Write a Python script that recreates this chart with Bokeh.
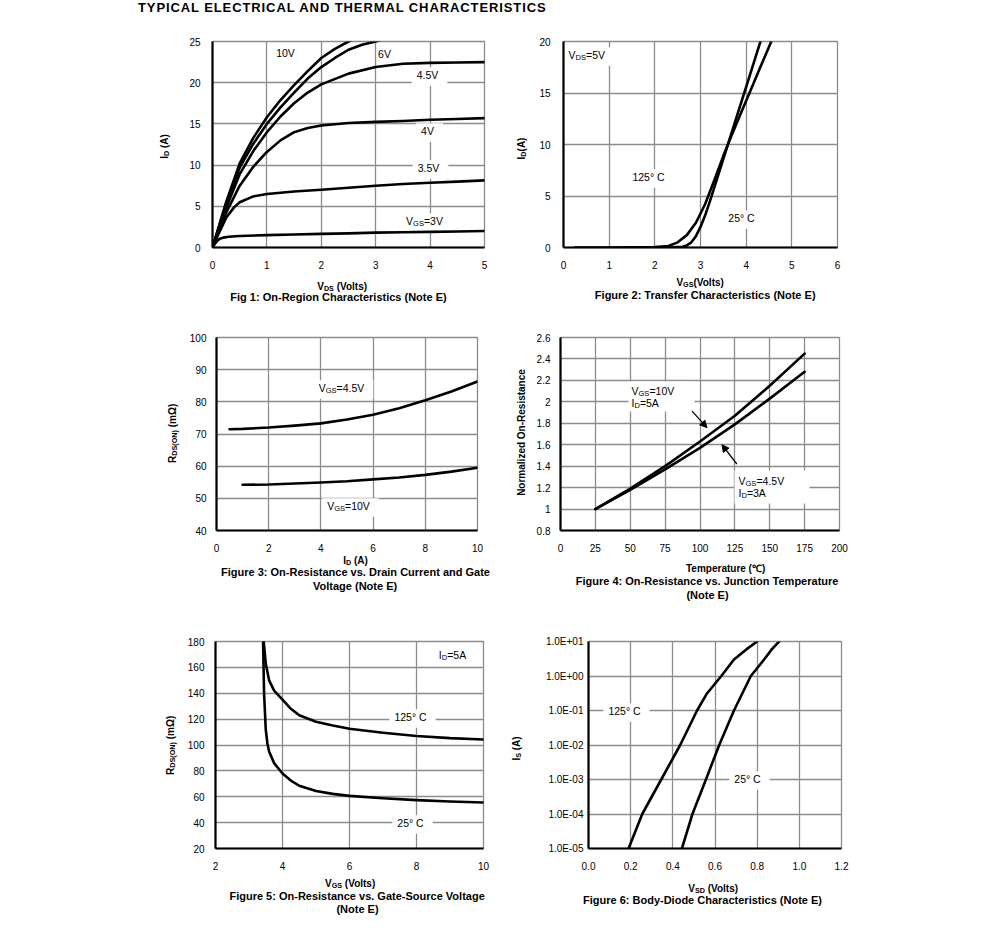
import math
from bokeh.plotting import figure
from bokeh.models import Label, BoxAnnotation, FixedTicker, Arrow, NormalHead, Div, Range1d
from bokeh.layouts import column, row
from bokeh.embed import file_html
from bokeh.resources import INLINE

# ---------------- data ----------------
# Fig 1: On-region characteristics (VDS -> ID) for several VGS
vds_10v = [0, 0.1, 0.25, 0.5, 0.75, 1.0, 1.25, 1.5, 1.75, 2.0, 2.25, 2.5, 2.6]
id_10v = [0, 2.2, 5.5, 10.2, 13.3, 15.8, 17.9, 19.7, 21.4, 23.0, 24.1, 25.0, 25.3]
vds_6v = [0, 0.1, 0.25, 0.5, 0.75, 1.0, 1.25, 1.5, 1.75, 2.0, 2.25, 2.5, 2.75, 3.0, 3.1]
id_6v = [0, 2.1, 5.2, 9.7, 12.6, 15.0, 17.0, 18.8, 20.5, 21.9, 23.0, 24.0, 24.6, 25.0, 25.2]
vds_45v = [0, 0.1, 0.25, 0.5, 0.75, 1.0, 1.25, 1.5, 1.75, 2.0, 2.5, 3.0, 3.5, 4.0, 4.5, 5.0]
id_45v = [0, 2.0, 4.8, 8.9, 11.7, 14.0, 15.9, 17.5, 18.8, 19.8, 21.1, 21.9, 22.3, 22.4, 22.45, 22.5]
vds_4v = [0, 0.1, 0.25, 0.5, 0.75, 1.0, 1.25, 1.5, 1.75, 2.0, 2.5, 3.0, 3.5, 4.0, 4.5, 5.0]
id_4v = [0, 1.8, 4.2, 7.5, 9.8, 11.6, 13.0, 14.0, 14.5, 14.8, 15.1, 15.25, 15.35, 15.5, 15.6, 15.7]
vds_35v = [0, 0.1, 0.25, 0.4, 0.5, 0.75, 1.0, 1.5, 2.0, 2.5, 3.0, 3.5, 4.0, 4.5, 5.0]
id_35v = [0, 1.5, 3.6, 4.9, 5.5, 6.2, 6.5, 6.8, 7.0, 7.25, 7.5, 7.7, 7.85, 8.0, 8.15]
vds_3v = [0, 0.05, 0.1, 0.15, 0.2, 0.3, 0.5, 1.0, 1.5, 2.0, 2.5, 3.0, 3.5, 4.0, 4.5, 5.0]
id_3v = [0, 0.5, 0.9, 1.1, 1.2, 1.3, 1.4, 1.5, 1.58, 1.65, 1.72, 1.8, 1.85, 1.9, 1.95, 2.0]

# Fig 2: Transfer characteristics
vgs_125c = [0.25, 1.0, 2.0, 2.3, 2.5, 2.7, 2.9, 3.1, 3.3, 3.5, 3.7, 3.9, 4.1, 4.3, 4.55]
id_125c = [0, 0, 0.05, 0.15, 0.5, 1.2, 2.4, 4.2, 6.5, 8.9, 11.1, 13.2, 15.3, 17.4, 20.0]
vgs_25c = [1.8, 2.4, 2.6, 2.7, 2.8, 2.9, 3.0, 3.1, 3.2, 3.4, 3.6, 3.8, 4.0, 4.2, 4.32]
id_25c = [0, 0.02, 0.08, 0.2, 0.5, 1.1, 2.0, 3.1, 4.4, 7.2, 10.0, 12.8, 15.6, 18.4, 20.1]

# Fig 3: RDS(ON) vs ID
id_f3_45 = [0.5, 1, 2, 3, 4, 5, 6, 7, 8, 9, 10]
r_f3_45 = [71.5, 71.6, 72.0, 72.6, 73.3, 74.5, 76.0, 78.0, 80.5, 83.2, 86.3]
id_f3_10 = [1, 2, 3, 4, 5, 6, 7, 8, 9, 10]
r_f3_10 = [54.2, 54.3, 54.6, 54.9, 55.3, 55.9, 56.5, 57.3, 58.3, 59.5]

# Fig 4: normalized RDS(ON) vs temperature
temp = [25, 50, 75, 100, 125, 150, 175]
rn_10v = [1.0, 1.19, 1.40, 1.63, 1.87, 2.15, 2.45]
rn_45v = [1.0, 1.18, 1.37, 1.57, 1.79, 2.03, 2.28]

# Fig 5: RDS(ON) vs VGS
vgs_f5_125 = [3.44, 3.5, 3.6, 3.75, 4.0, 4.25, 4.5, 5.0, 5.5, 6.0, 7.0, 8.0, 9.0, 10.0]
r_f5_125 = [180, 163, 150, 142, 135, 128, 123, 118, 115, 112.5, 109.5, 107, 105.3, 104.2]
vgs_f5_25 = [3.42, 3.45, 3.5, 3.55, 3.6, 3.75, 4.0, 4.25, 4.5, 5.0, 5.5, 6.0, 7.0, 8.0, 9.0, 10.0]
r_f5_25 = [180, 140, 112, 101, 95, 86, 78, 72.5, 68.5, 64.5, 62.2, 60.7, 58.8, 57.4, 56.3, 55.5]

# Fig 6: body diode
vsd_125 = [0.19, 0.255, 0.345, 0.435, 0.515, 0.56, 0.63, 0.69, 0.75, 0.80]
is_125 = [1e-5, 1e-4, 1e-3, 1e-2, 1e-1, 3e-1, 1, 3, 6, 10]
vsd_25 = [0.443, 0.493, 0.557, 0.62, 0.69, 0.77, 0.833, 0.87, 0.904]
is_25 = [1e-5, 1e-4, 1e-3, 1e-2, 1e-1, 1, 3, 6, 10]

# ticks
f1_xt = [0, 1, 2, 3, 4, 5]
f1_yt = [0, 5, 10, 15, 20, 25]
f2_xt = [0, 1, 2, 3, 4, 5, 6]
f2_yt = [0, 5, 10, 15, 20]
f3_xt = [0, 2, 4, 6, 8, 10]
f3_yt = [40, 50, 60, 70, 80, 90, 100]
f4_xt = [0, 25, 50, 75, 100, 125, 150, 175, 200]
f4_yt = [0.8, 1.0, 1.2, 1.4, 1.6, 1.8, 2.0, 2.2, 2.4, 2.6]
f4_ylab = ["0.8", "1", "1.2", "1.4", "1.6", "1.8", "2", "2.2", "2.4", "2.6"]
f5_xt = [2, 4, 6, 8, 10]
f5_yt = [20, 40, 60, 80, 100, 120, 140, 160, 180]
f6_xt = [0.0, 0.2, 0.4, 0.6, 0.8, 1.0, 1.2]
f6_xlab = ["0.0", "0.2", "0.4", "0.6", "0.8", "1.0", "1.2"]
f6_yt = [1e-5, 1e-4, 1e-3, 1e-2, 1e-1, 1.0, 10.0]
f6_ylab = ["1.0E-05", "1.0E-04", "1.0E-03", "1.0E-02", "1.0E-01", "1.0E+00", "1.0E+01"]

# ---------------- styling helpers ----------------
FONT = "Liberation Sans"
GRID = "#8c8c8c"

_REG = {" ": 278, "(": 333, ")": 333, "+": 584, "-": 333, ".": 278, ":": 278, "=": 584, "°": 400, "Ω": 768}
_BOLD = {" ": 278, "(": 333, ")": 333, "+": 584, "-": 333, ".": 278, ":": 333, "=": 584, "°": 400, "Ω": 768}
for _c, _w in zip("ABCDEFGHIJKLMNOPQRSTUVWXYZ",
                  [667, 667, 722, 722, 667, 611, 778, 722, 278, 500, 667, 556, 833, 722, 778, 667, 778, 722, 667, 611, 722, 667, 944, 667, 667, 611]):
    _REG[_c] = _w
for _c, _w in zip("abcdefghijklmnopqrstuvwxyz",
                  [556, 556, 500, 556, 556, 278, 556, 556, 222, 222, 500, 222, 833, 556, 556, 556, 556, 333, 500, 278, 556, 500, 722, 500, 500, 500]):
    _REG[_c] = _w
for _c, _w in zip("ABCDEFGHIJKLMNOPQRSTUVWXYZ",
                  [722, 722, 722, 722, 667, 611, 778, 722, 278, 556, 722, 611, 833, 722, 778, 667, 778, 722, 667, 611, 722, 667, 944, 667, 667, 611]):
    _BOLD[_c] = _w
for _c, _w in zip("abcdefghijklmnopqrstuvwxyz",
                  [556, 611, 556, 611, 556, 333, 611, 611, 278, 278, 556, 278, 889, 611, 611, 611, 611, 389, 556, 333, 611, 556, 778, 556, 556, 500]):
    _BOLD[_c] = _w
for _c in "0123456789":
    _REG[_c] = 556
    _BOLD[_c] = 556


def tw(s, size, bold):
    m = _BOLD if bold else _REG
    return sum(m.get(c, 700) for c in s) * size / 1000.0


def rich(p, frame, X, Y, segs, size=10.0, bold=False, align="center", angle=0, box=None):
    """segs: list of (text, 'n'|'s'); X,Y = page-pixel anchor (center of caps)."""
    L, T, R, B = frame
    sub = 0.72 * size
    widths = [tw(t, sub if k == "s" else size, bold) for t, k in segs]
    total = sum(widths)
    style = "bold" if bold else "normal"
    shift = -0.01 * size  # empirical baseline correction

    def split(t, k):
        lead = len(t) - len(t.lstrip(" "))
        fs = sub if k == "s" else size
        return t.lstrip(" "), tw(" " * lead, fs, bold), fs

    if angle == 0:
        x = X - total / 2 if align == "center" else X
        base = Y + shift
        if box is not None:
            pl, pr, pt, pb = box
            p.add_layout(BoxAnnotation(left=x - pl - L, right=x + total + pr - L,
                                       top=B - (Y - 0.5 * size - pt), bottom=B - (Y + 0.5 * size + pb),
                                       left_units="screen", right_units="screen",
                                       top_units="screen", bottom_units="screen",
                                       fill_color="white", fill_alpha=1.0, line_color=None,
                                       level="underlay"))
        for (t, k), w in zip(segs, widths):
            txt, lead_w, fs = split(t, k)
            yb = base + (0.22 * size if k == "s" else 0)
            p.add_layout(Label(x=x + lead_w - L, y=B - yb, x_units="screen", y_units="screen", text=txt,
                               text_font=FONT, text_font_size=f"{fs:.2f}px",
                               text_font_style=style, text_color="black",
                               text_align="left", text_baseline="alphabetic"))
            x += w
    else:
        y = Y + total / 2
        basex = X + shift
        for (t, k), w in zip(segs, widths):
            txt, lead_w, fs = split(t, k)
            xb = basex + (0.22 * size if k == "s" else 0)
            p.add_layout(Label(x=xb - L, y=B - (y - lead_w), x_units="screen", y_units="screen", text=txt,
                               angle=math.pi / 2,
                               text_font=FONT, text_font_size=f"{fs:.2f}px",
                               text_font_style=style, text_color="black",
                               text_align="left", text_baseline="alphabetic"))
            y -= w


def mk(canvas, frame, xr, yr, xt, yt, ygap, xgap=13, ylog=False, xlab=None, ylab=None):
    cl, ct, cr, cb = canvas
    L, T, R, B = frame
    p = figure(width=cr - cl, height=cb - ct,
               min_border_left=L - cl, min_border_right=cr - R,
               min_border_top=T - ct, min_border_bottom=cb - B,
               x_range=Range1d(*xr), y_range=Range1d(*yr),
               y_axis_type="log" if ylog else "linear",
               toolbar_location=None, output_backend="svg")
    p.xaxis.ticker = FixedTicker(ticks=xt)
    p.yaxis.ticker = FixedTicker(ticks=yt)
    if xlab:
        p.xaxis.major_label_overrides = {v: s for v, s in zip(xt, xlab)}
    if ylab:
        p.yaxis.major_label_overrides = {v: s for v, s in zip(yt, ylab)}
    p.axis.major_tick_line_color = None
    p.axis.minor_tick_line_color = None
    p.axis.major_tick_out = 0
    p.axis.major_tick_in = 0
    p.axis.minor_tick_out = 0
    p.axis.minor_tick_in = 0
    p.axis.axis_line_color = "black"
    p.axis.axis_line_width = 2.2
    p.axis.major_label_text_font = FONT
    p.axis.major_label_text_font_size = "10px"
    p.axis.major_label_text_color = "black"
    p.xaxis.major_label_standoff = xgap
    p.yaxis.major_label_standoff = ygap
    p.grid.grid_line_color = GRID
    p.grid.grid_line_width = 1.3
    p.outline_line_color = GRID
    p.outline_line_width = 1.3
    p.background_fill_color = "white"
    p.border_fill_color = "white"
    return p


def textfig(canvas, mbt=0, mbb=0):
    cl, ct, cr, cb = canvas
    p = figure(width=cr - cl, height=cb - ct, min_border_left=0, min_border_right=0,
               min_border_top=mbt, min_border_bottom=mbb,
               x_range=Range1d(0, 1), y_range=Range1d(0, 1),
               x_axis_location=None, y_axis_location=None,
               toolbar_location=None, output_backend="svg")
    p.grid.visible = False
    p.outline_line_color = None
    p.background_fill_color = "white"
    p.border_fill_color = "white"
    frame = (cl, ct + mbt, cr, cb - mbb)
    return p, frame


def curve(p, x, y):
    p.line(x, y, line_color="black", line_width=2.6, line_join="round", line_cap="round")


BOX = (5, 9, 3, 5)

# ---------------- layout geometry (page pixel coords) ----------------
R1 = (13, 275, 28, 28)      # row top, bottom, border top, border bottom
R2 = (320, 555, 17, 25)
R3 = (620, 874, 21, 26)

F1 = (212, R1[0] + R1[2], 484, R1[1] - R1[3])
F2 = (563, R1[0] + R1[2], 837, R1[1] - R1[3])
F3 = (213, R2[0] + R2[2], 477, R2[1] - R2[3])
F4 = (559, R2[0] + R2[2], 839, R2[1] - R2[3])
F5 = (213, R3[0] + R3[2], 483, R3[1] - R3[3])
F6 = (588, R3[0] + R3[2], 841, R3[1] - R3[3])

# ---- Row 1
yl1, YL1 = textfig((0, R1[0], 178, R1[1]), R1[2], R1[3])
p1 = mk((178, R1[0], 504, R1[1]), F1, (0, 5), (0, 25), f1_xt, f1_yt, ygap=12)
yl2, YL2 = textfig((504, R1[0], 536, R1[1]), R1[2], R1[3])
p2 = mk((536, R1[0], 857, R1[1]), F2, (0, 6), (0, 20), f2_xt, f2_yt, ygap=13)
b1, B1 = textfig((0, R1[1], 857, 320))

for xs, ys in [(vds_10v, id_10v), (vds_6v, id_6v), (vds_45v, id_45v), (vds_4v, id_4v), (vds_35v, id_35v), (vds_3v, id_3v)]:
    curve(p1, xs, ys)
rich(p1, F1, 285, 53, [("10V", "n")], size=10.5)
rich(p1, F1, 384, 54, [("6V", "n")], size=10.5)
rich(p1, F1, 427, 75, [("4.5V", "n")], size=10.5, box=BOX)
rich(p1, F1, 427, 131, [("4V", "n")], size=10.5, box=BOX)
rich(p1, F1, 428, 168, [("3.5V", "n")], size=10.5, box=BOX)
rich(p1, F1, 424, 221, [("V", "n"), ("GS", "s"), ("=3V", "n")], size=10.5, box=BOX)
rich(yl1, YL1, 164, 146, [("I", "n"), ("D", "s"), (" (A)", "n")], bold=True, angle=1)
rich(b1, B1, 342, 286, [("V", "n"), ("DS", "s"), (" (Volts)", "n")], bold=True)
rich(b1, B1, 338, 297, [("Fig 1: On-Region Characteristics (Note E)", "n")], size=11, bold=True)

curve(p2, vgs_125c, id_125c)
curve(p2, vgs_25c, id_25c)
rich(p2, F2, 568, 55, [("V", "n"), ("DS", "s"), ("=5V", "n")], size=10.5, align="left", box=BOX)
rich(p2, F2, 648, 177, [("125° C", "n")], size=10.5, box=BOX)
rich(p2, F2, 741, 218, [("25° C", "n")], size=10.5, box=BOX)
rich(yl2, YL2, 521, 148, [("I", "n"), ("D", "s"), ("(A)", "n")], bold=True, angle=1)
rich(b1, B1, 700, 282, [("V", "n"), ("GS", "s"), ("(Volts)", "n")], bold=True)
rich(b1, B1, 705, 295, [("Figure 2: Transfer Characteristics (Note E)", "n")], size=11, bold=True)

# ---- Row 2
yl3, YL3 = textfig((0, R2[0], 186, R2[1]), R2[2], R2[3])
p3 = mk((186, R2[0], 497, R2[1]), F3, (0, 10), (40, 100), f3_xt, f3_yt, ygap=10)
yl4, YL4 = textfig((497, R2[0], 533, R2[1]), R2[2], R2[3])
p4 = mk((533, R2[0], 857, R2[1]), F4, (0, 200), (0.8, 2.6), f4_xt, f4_yt, ygap=10, ylab=f4_ylab)
b2, B2 = textfig((0, R2[1], 857, 620))

curve(p3, id_f3_45, r_f3_45)
curve(p3, id_f3_10, r_f3_10)
rich(p3, F3, 338, 388, [("V", "n"), ("GS", "s"), ("=4.5V", "n")], size=10.5, box=BOX)
rich(p3, F3, 345, 506, [("V", "n"), ("GS", "s"), ("=10V", "n")], size=10.5, box=BOX)
rich(yl3, YL3, 172, 433, [("R", "n"), ("DS(ON)", "s"), (" (mΩ)", "n")], bold=True, angle=1)
rich(b2, B2, 355, 560, [("I", "n"), ("D", "s"), (" (A)", "n")], bold=True)
rich(b2, B2, 355, 572, [("Figure 3: On-Resistance vs. Drain Current and Gate", "n")], size=11, bold=True)
rich(b2, B2, 355, 586, [("Voltage (Note E)", "n")], size=11, bold=True)

curve(p4, temp, rn_10v)
curve(p4, temp, rn_45v)
for bl, br, bt, bb in [(627, 693, 381, 411), (733, 808, 470, 503)]:
    p4.add_layout(BoxAnnotation(left=bl - F4[0], right=br - F4[0], top=F4[3] - bt, bottom=F4[3] - bb,
                                left_units="screen", right_units="screen", top_units="screen", bottom_units="screen",
                                fill_color="white", fill_alpha=1.0, line_color=None, level="underlay"))
rich(p4, F4, 630, 391, [("V", "n"), ("GS", "s"), ("=10V", "n")], size=10.5, align="left")
rich(p4, F4, 630, 403, [("I", "n"), ("D", "s"), ("=5A", "n")], size=10.5, align="left")
rich(p4, F4, 737, 481, [("V", "n"), ("GS", "s"), ("=4.5V", "n")], size=10.5, align="left")
rich(p4, F4, 737, 493, [("I", "n"), ("D", "s"), ("=3A", "n")], size=10.5, align="left")
arrow_a = (94.3, 1.913, 105.0, 1.759)
arrow_b = (126.4, 1.42, 115.7, 1.60)
for xs, ys, xe, ye in (arrow_a, arrow_b):
    p4.add_layout(Arrow(end=NormalHead(size=7, fill_color="black", line_color="black"),
                        x_start=xs, y_start=ys, x_end=xe, y_end=ye, line_color="black", line_width=1.3))
rich(yl4, YL4, 521, 432, [("Normalized On-Resistance", "n")], bold=True, angle=1)
rich(b2, B2, 724, 568, [("Temperature (℃)", "n")], bold=True)
rich(b2, B2, 707, 581, [("Figure 4: On-Resistance vs. Junction Temperature", "n")], size=11, bold=True)
rich(b2, B2, 707, 595, [("(Note E)", "n")], size=11, bold=True)

# ---- Row 3
yl5, YL5 = textfig((0, R3[0], 184, R3[1]), R3[2], R3[3])
p5 = mk((184, R3[0], 503, R3[1]), F5, (2, 10), (20, 180), f5_xt, f5_yt, ygap=11)
yl6, YL6 = textfig((503, R3[0], 530, R3[1]), R3[2], R3[3])
p6 = mk((530, R3[0], 857, R3[1]), F6, (0, 1.2), (1e-5, 10), f6_xt, f6_yt, ygap=5, ylog=True,
        xlab=f6_xlab, ylab=f6_ylab)
b3, B3 = textfig((0, R3[1], 857, 922))

curve(p5, vgs_f5_125, r_f5_125)
curve(p5, vgs_f5_25, r_f5_25)
rich(p5, F5, 450, 655, [("I", "n"), ("D", "s"), ("=5A", "n")], size=10.5)
rich(p5, F5, 408, 717, [("125° C", "n")], size=10.5, box=BOX)
rich(p5, F5, 408, 823, [("25° C", "n")], size=10.5, box=BOX)
rich(yl5, YL5, 170, 745, [("R", "n"), ("DS(ON)", "s"), (" (mΩ)", "n")], bold=True, angle=1)
rich(b3, B3, 350, 883, [("V", "n"), ("GS", "s"), (" (Volts)", "n")], bold=True)
rich(b3, B3, 357, 896, [("Figure 5: On-Resistance vs. Gate-Source Voltage", "n")], size=11, bold=True)
rich(b3, B3, 357, 909, [("(Note E)", "n")], size=11, bold=True)

curve(p6, vsd_125, is_125)
curve(p6, vsd_25, is_25)
rich(p6, F6, 624, 711, [("125° C", "n")], size=10.5, box=BOX)
rich(p6, F6, 747, 779, [("25° C", "n")], size=10.5, box=BOX)
rich(yl6, YL6, 516, 748, [("I", "n"), ("S", "s"), (" (A)", "n")], bold=True, angle=1)
rich(b3, B3, 713, 888, [("V", "n"), ("SD", "s"), (" (Volts)", "n")], bold=True)
rich(b3, B3, 702, 900, [("Figure 6: Body-Diode Characteristics (Note E)", "n")], size=11, bold=True)

title = Div(text='<div style="font-family:\'Liberation Sans\',Arial,sans-serif;font-weight:bold;'
                 'font-size:13px;letter-spacing:0.9px;white-space:nowrap;padding-left:138px;'
                 'line-height:13px;">TYPICAL ELECTRICAL AND THERMAL CHARACTERISTICS</div>',
            width=700, height=13, margin=(0, 0, 0, 0))

layout = column(title,
                row(yl1, p1, yl2, p2), b1,
                row(yl3, p3, yl4, p4), b2,
                row(yl5, p5, yl6, p6), b3)
open("out.html", "w").write(file_html(layout, INLINE))
